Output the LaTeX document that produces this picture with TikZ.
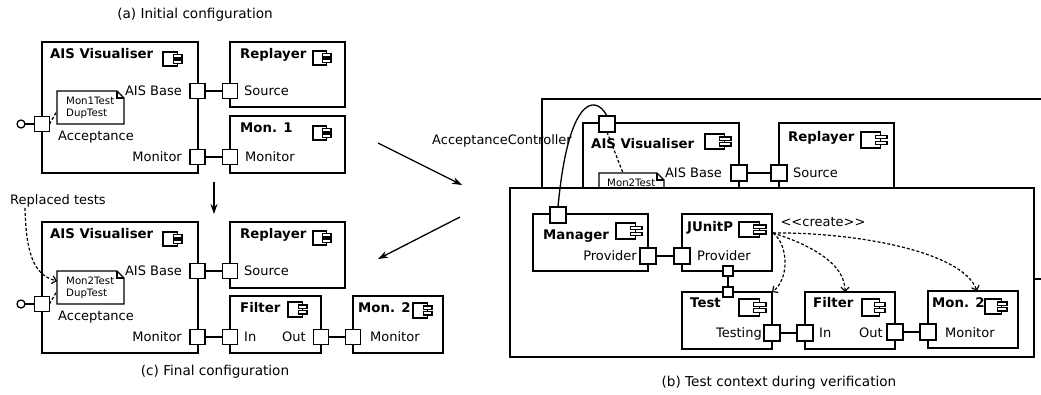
\documentclass[tikz,border=0pt]{standalone}
\usepackage{fontspec}
\setmainfont{DejaVu Sans}
\newfontfamily\rawfont{DejaVu Sans}
\usetikzlibrary{arrows.meta}
\tikzset{
  box/.style={draw, line width=1.3pt, fill=white, anchor=north west, inner sep=0pt, outer sep=0pt},
  port/.style={draw, line width=1.3pt, fill=white, minimum size=15pt, inner sep=0pt, outer sep=0pt},
  bport/.style={port, minimum size=16pt},
  sport/.style={port, minimum size=10pt},
  lolli/.style={circle, draw, line width=1.3pt, fill=white, minimum size=8pt, inner sep=0pt, outer sep=0pt},
  lbl/.style={inner sep=0pt, font=\fontsize{13}{15}\selectfont, text height=9.5pt, text depth=0pt},
  ttl/.style={inner sep=0pt, font=\fontsize{13.3}{15}\selectfont\bfseries, text height=9.7pt, text depth=0pt, anchor=west},
  ntxt/.style={inner sep=0pt, font=\fontsize{10.2}{12}\selectfont, anchor=west, text height=7.4pt, text depth=0pt},
  captxt/.style={inner sep=0pt, font=\fontsize{13.6}{16}\selectfont},
  notebox/.style={anchor=north west, inner sep=0pt, outer sep=0pt},
  noteline/.style={line width=1.2pt, fill=white},
  wire/.style={line width=1.3pt},
  dashline/.style={line width=1.2pt, dash pattern=on 3pt off 2pt},
  bigarrow/.style={line width=1.3pt, -{Stealth[length=10pt,width=7pt]}},
  openarrow/.style={dashline, -{Straight Barb[length=4pt,width=8pt]}},
  compicon/.pic={
    \draw[line width=1.1pt, fill=white] (0,0) rectangle (0.75,1);
    \draw[line width=1.1pt, fill=white] (0.55,0.2) rectangle (1,0.43);
    \draw[line width=1.1pt, fill=white] (0.55,0.57) rectangle (1,0.8);
  }
}
\begin{document}
\begin{tikzpicture}[x=1pt,y=-1pt]
\useasboundingbox (0,0) rectangle (1041,394);
\clip (0,0) rectangle (1041,394);

% ---------------- Panel (a)
\node[captxt] (capa) at (195,15) {(a) Initial configuration};
\node[box, minimum width=156pt, minimum height=131pt] (visA) at (42,42) {};
\node[box, minimum width=115pt, minimum height=65pt] (repA) at (230,42) {};
\node[box, minimum width=115pt, minimum height=57pt] (monA) at (230,116) {};
\node[ttl] (visAt) at (50,54) {AIS Visualiser};
\node[ttl] (repAt) at (240,54) {Replayer};
\node[ttl] (monAt) at (240,128) {Mon. 1};
\pic[xscale=19,yscale=14] at (163,52) {compicon};
\pic[xscale=18,yscale=14] at (313,51) {compicon};
\pic[xscale=18,yscale=14] at (313,126) {compicon};
\node[port] (visAbase) at (197.5,91) {};
\node[port] (repAsrc) at (230,91) {};
\draw[wire] (visAbase) -- (repAsrc);
\node[port] (visAmon) at (197.5,157) {};
\node[port] (monAmon) at (230,157) {};
\draw[wire] (visAmon) -- (monAmon);
\node[lbl, anchor=east] (lAbase) at (182,91) {AIS Base};
\node[lbl, anchor=west] (lAsrc) at (244,91) {Source};
\node[lbl, anchor=east] (lAmon) at (182,157) {Monitor};
\node[lbl, anchor=west] (lAmon2) at (245,157) {Monitor};
\node[port] (visAacc) at (42,124) {};
\node[lolli] (lolA) at (21,124) {};
\draw[wire] (lolA) -- (visAacc);
\node[lbl, anchor=west] (lAacc) at (58,136) {Acceptance};
\node[notebox, minimum width=67pt, minimum height=33pt] (noteA) at (57,91) {};
\draw[noteline] (noteA.north west) -- ([xshift=-7pt]noteA.north east) -- ([yshift=-7pt]noteA.north east) -- (noteA.south east) -- (noteA.south west) -- cycle;
\draw[line width=1.2pt] ([xshift=-7pt]noteA.north east) |- ([yshift=-7pt]noteA.north east);
\node[ntxt] (nA1) at (66,100.5) {Mon1Test};
\node[ntxt] (nA2) at (66,112.5) {DupTest};
\draw[dashline] (visAacc.east) -- ([yshift=13pt]noteA.south west);

% arrow a -> c
\coordinate (arA1) at (214,182);
\coordinate (arA2) at (214,214);
\draw[bigarrow] (arA1) -- (arA2);

% ---------------- Panel (c)
\node[captxt] (capc) at (215,372) {(c) Final configuration};
\node[lbl] (replaced) at (58,200) {Replaced tests};
\node[box, minimum width=156pt, minimum height=131pt] (visC) at (42,222) {};
\node[box, minimum width=115pt, minimum height=66pt] (repC) at (230,222) {};
\node[box, minimum width=91pt, minimum height=57pt] (filC) at (230,296) {};
\node[box, minimum width=90pt, minimum height=57pt] (monC) at (353,296) {};
\node[ttl] (visCt) at (50,234) {AIS Visualiser};
\node[ttl] (repCt) at (240,234) {Replayer};
\node[ttl] (filCt) at (240,308) {Filter};
\node[ttl] (monCt) at (358,308) {Mon. 2};
\pic[xscale=19,yscale=14] at (163,232) {compicon};
\pic[xscale=18,yscale=14] at (313,231) {compicon};
\pic[xscale=19,yscale=15] at (288,302) {compicon};
\pic[xscale=19,yscale=15] at (413,303) {compicon};
\node[port] (visCbase) at (197.5,271) {};
\node[port] (repCsrc) at (230,271) {};
\draw[wire] (visCbase) -- (repCsrc);
\node[port] (visCmon) at (197.5,337) {};
\node[port] (filCin) at (230,337) {};
\draw[wire] (visCmon) -- (filCin);
\node[port] (filCout) at (321,337) {};
\node[port] (monCmon) at (353,337) {};
\draw[wire] (filCout) -- (monCmon);
\node[lbl, anchor=east] (lCbase) at (182,271) {AIS Base};
\node[lbl, anchor=west] (lCsrc) at (244,271) {Source};
\node[lbl, anchor=east] (lCmon) at (182,337) {Monitor};
\node[lbl, anchor=west] (lCin) at (244,337) {In};
\node[lbl, anchor=east] (lCout) at (306,337) {Out};
\node[lbl, anchor=west] (lCmon2) at (370,337) {Monitor};
\node[port] (visCacc) at (42,304) {};
\node[lolli] (lolC) at (21,304) {};
\draw[wire] (lolC) -- (visCacc);
\node[lbl, anchor=west] (lCacc) at (58,316) {Acceptance};
\node[notebox, minimum width=67pt, minimum height=33pt] (noteC) at (57,271) {};
\draw[noteline] (noteC.north west) -- ([xshift=-7pt]noteC.north east) -- ([yshift=-7pt]noteC.north east) -- (noteC.south east) -- (noteC.south west) -- cycle;
\draw[line width=1.2pt] ([xshift=-7pt]noteC.north east) |- ([yshift=-7pt]noteC.north east);
\node[ntxt] (nC1) at (66,280.5) {Mon2Test};
\node[ntxt] (nC2) at (66,292.5) {DupTest};
\draw[dashline] (visCacc.east) -- ([yshift=13pt]noteC.south west);
\draw[openarrow] ([xshift=-33pt,yshift=-3pt]replaced.south) .. controls (26,262) and (38,276) .. ([yshift=-10pt]noteC.north west);

% arrows between panels
\coordinate (arB1) at (378,143);
\coordinate (arB2) at (462,185);
\draw[bigarrow] (arB1) -- (arB2);
\coordinate (arC1) at (460,217);
\coordinate (arC2) at (378,259);
\draw[bigarrow] (arC1) -- (arC2);

% ---------------- Panel (b)
\node[box, minimum width=560pt, minimum height=180pt] (ctxB) at (542,99) {};
\node[box, minimum width=156pt, minimum height=80pt] (visB) at (583,123) {};
\node[box, minimum width=115pt, minimum height=80pt] (repB) at (779,123) {};
\node[ttl] (visBt) at (591,144) {AIS Visualiser};
\node[ttl] (repBt) at (788,137) {Replayer};
\pic[xscale=26,yscale=15] at (705,134) {compicon};
\pic[xscale=26,yscale=16] at (861,132) {compicon};
\node[bport] (visBacc) at (607,124) {};
\node[bport] (visBbase) at (739,173) {};
\node[bport] (repBsrc) at (779,173) {};
\draw[wire] (visBbase) -- (repBsrc);
\node[lbl, anchor=east] (lBbase) at (722,173) {AIS Base};
\node[lbl, anchor=west] (lBsrc) at (793,173) {Source};
\node[notebox, minimum width=65pt, minimum height=30pt] (noteB) at (599,173) {};
\draw[noteline] (noteB.north west) -- ([xshift=-7pt]noteB.north east) -- ([yshift=-7pt]noteB.north east) -- (noteB.south east) -- (noteB.south west) -- cycle;
\draw[line width=1.2pt] ([xshift=-7pt]noteB.north east) |- ([yshift=-7pt]noteB.north east);
\node[ntxt] (nB1) at (607,183) {Mon2Test};
\draw[dashline] (visBacc.south) -- ([xshift=24pt]noteB.north west);
\node[lbl, anchor=east] (accctl) at (572,140) {AcceptanceController};

\node[box, minimum width=524pt, minimum height=169pt] (front) at (510,188) {};

\node[box, minimum width=115pt, minimum height=57pt] (mgr) at (533,214) {};
\node[box, minimum width=90pt, minimum height=57pt] (junit) at (682,214) {};
\node[box, minimum width=90pt, minimum height=57pt] (test) at (682,292) {};
\node[box, minimum width=90pt, minimum height=57pt] (filB) at (805,292) {};
\node[box, minimum width=90pt, minimum height=57pt] (monB) at (928,291) {};
\node[ttl] (mgrt) at (543,235) {Manager};
\node[ttl] (junitt) at (687,227) {JUnitP};
\node[ttl] (testt) at (690,303) {Test};
\node[ttl] (filBt) at (813,303) {Filter};
\node[ttl] (monBt) at (932,303) {Mon. 2};
\pic[xscale=26,yscale=16] at (616,223) {compicon};
\pic[xscale=27,yscale=15] at (739,222) {compicon};
\pic[xscale=27,yscale=17] at (739,299) {compicon};
\pic[xscale=23,yscale=17] at (862,299) {compicon};
\pic[xscale=22,yscale=15] at (985,299) {compicon};

\node[bport] (mgrtop) at (558,215) {};
\draw[wire] (visBacc.north) .. controls (595,93) and (568,98) .. (mgrtop.north);
\node[bport] (mgrprov) at (648,256) {};
\node[bport] (junitprov) at (682,256) {};
\draw[wire] (mgrprov) -- (junitprov);
\node[lbl, anchor=east] (lmgrprov) at (637,256) {Provider};
\node[lbl, anchor=west] (ljunitprov) at (697,256) {Provider};
\node[sport] (junitbot) at (728,271) {};
\node[sport] (testtop) at (728,292) {};
\draw[wire] (junitbot) -- (testtop);
\node[bport] (testing) at (772,333) {};
\node[bport] (filBin) at (805,333) {};
\draw[wire] (testing) -- (filBin);
\node[bport] (filBout) at (895,332) {};
\node[bport] (monBmon) at (928,332) {};
\draw[wire] (filBout) -- (monBmon);
\node[lbl, anchor=east] (ltesting) at (762,333) {Testing};
\node[lbl, anchor=west] (lfilBin) at (819,333) {In};
\node[lbl, anchor=east] (lfilBout) at (883,333) {Out};
\node[lbl, anchor=west] (lmonB) at (945,333) {Monitor};

\node[lbl, font=\fontsize{13}{15}\rawfont] (create) at (823,222) {<<create>>};
\coordinate (cstart) at (773,233);
\draw[openarrow] (cstart) .. controls (789,245) and (789,280) .. (test.north east);
\draw[openarrow] (cstart) .. controls (795,240) and (845,258) .. (filB.north -| 845,0);
\draw[openarrow] (cstart) .. controls (850,232) and (962,250) .. (monB.north -| 977,0);

\node[captxt] (capb) at (779,383) {(b) Test context during verification};
\end{tikzpicture}
\end{document}
